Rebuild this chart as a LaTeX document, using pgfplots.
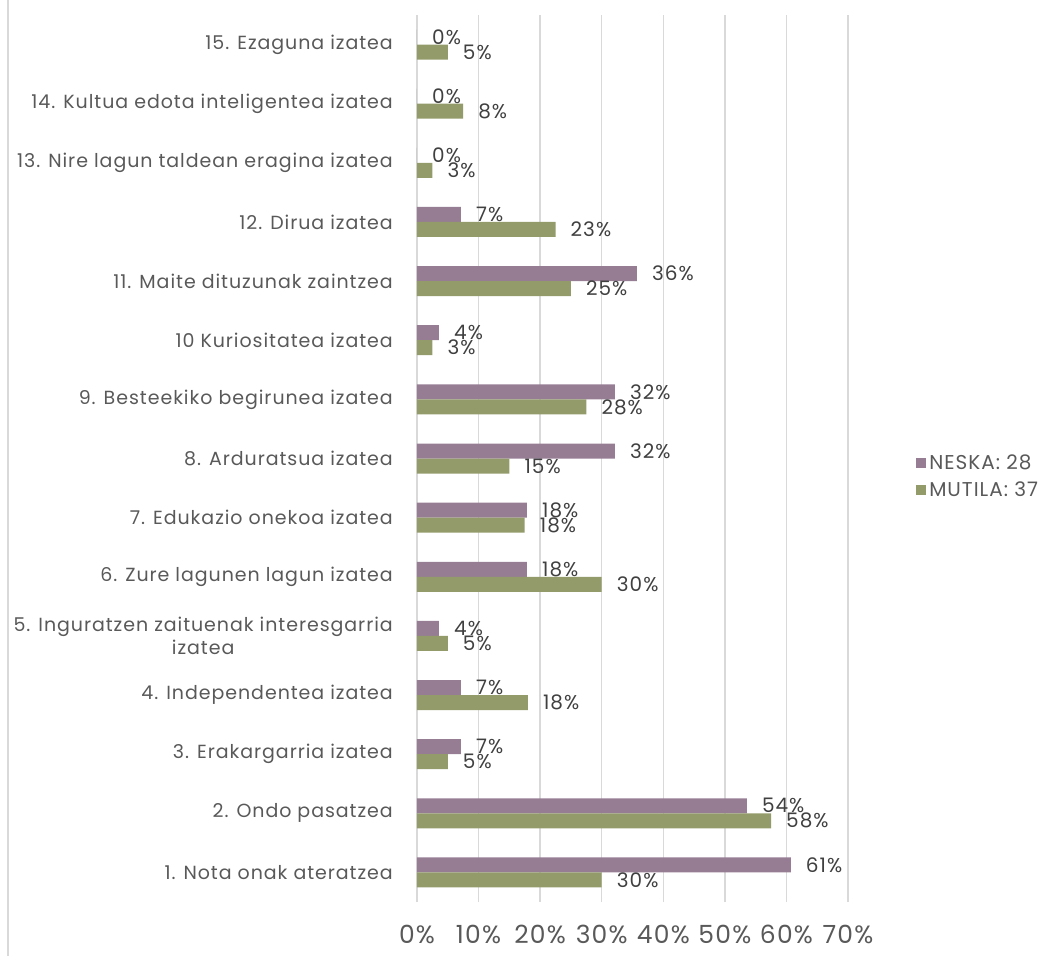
\documentclass[border=0pt]{standalone}
\usepackage{fontspec}
\setmainfont{Poppins}
\newfontfamily\lab{Poppins}[LetterSpace=5]
\newfontfamily\tck{Poppins}[LetterSpace=5]
\usepackage{pgfplots}
\pgfplotsset{compat=1.18}
\definecolor{neska}{HTML}{967D94}
\definecolor{mutila}{HTML}{949B6A}
\definecolor{txt}{HTML}{595959}
\definecolor{lbl}{HTML}{404040}
\definecolor{gridc}{HTML}{D9D9D9}

\begin{document}
\begin{tikzpicture}[x=1pt,y=1pt]
\path[use as bounding box] (0,0) rectangle (1061,-956);
\draw[gridc, line width=1.5pt] (8,0) -- (8,-956);
\begin{axis}[
    at={(417pt,-902pt)}, anchor=south west,
    scale only axis,
    width=431pt, height=887pt,
    xbar,
    bar width=15pt,
    xmin=0, xmax=70,
    ymin=0.5, ymax=15.5,
    xtick={0,10,20,30,40,50,60,70},
    xticklabels={0\%,10\%,20\%,30\%,40\%,50\%,60\%,70\%},
    ytick={1,...,15},
    yticklabels={
        1. Nota onak ateratzea,
        2. Ondo pasatzea,
        3. Erakargarria izatea,
        4. Independentea izatea,
        {5. Inguratzen zaituenak interesgarria\\izatea},
        6. Zure lagunen lagun izatea,
        7. Edukazio onekoa izatea,
        8. Arduratsua izatea,
        9. Besteekiko begirunea izatea,
        10 Kuriositatea izatea,
        11. Maite dituzunak zaintzea,
        12. Dirua izatea,
        13. Nire lagun taldean eragina izatea,
        14. Kultua edota inteligentea izatea,
        15. Ezaguna izatea},
    xmajorgrids,
    grid style={gridc, line width=1.5pt},
    axis line style={draw=none},
    major tick length=0pt,
    tick label style={text=txt, inner sep=0pt},
    xticklabel style={font=\tck\fontsize{25}{27}\selectfont},
    yticklabel style={font=\lab\fontsize{19}{23}\selectfont, align=center},
    xticklabel shift=23pt,
    yticklabel shift=24pt,
    nodes near coords={\pgfmathprintnumber[fixed,precision=0,assume math mode=true]{\pgfplotspointmeta}\%},
    point meta=x,
    every node near coord/.append style={font=\lab\fontsize{20}{22}\selectfont, text=lbl, anchor=west, inner sep=0pt, xshift=15pt},
    legend style={at={(1.151,0.48)}, anchor=west, draw=none, fill=none,
        font=\lab\fontsize{20}{22}\selectfont, text=txt, row sep=5pt,
        nodes={inner sep=3pt}},
    legend cell align=left,
    legend image code/.code={\fill[#1] (0pt,-5pt) rectangle (10pt,5pt);},
]
\addplot[fill=neska, draw=none, bar shift=7.5pt] coordinates {
    (60.71,1) (53.57,2) (7.14,3) (7.14,4) (3.57,5)
    (17.86,6) (17.86,7) (32.14,8) (32.14,9) (3.57,10)
    (35.71,11) (7.14,12) (0,13) (0,14) (0,15)
};
\addlegendentry{NESKA: 28}
\addplot[fill=mutila, draw=none, bar shift=-7.5pt] coordinates {
    (30,1) (57.5,2) (5,3) (18,4) (5,5)
    (30,6) (17.5,7) (15,8) (27.5,9) (2.5,10)
    (25,11) (22.5,12) (2.5,13) (7.5,14) (5,15)
};
\addlegendentry{MUTILA: 37}
\end{axis}
\end{tikzpicture}
\end{document}
